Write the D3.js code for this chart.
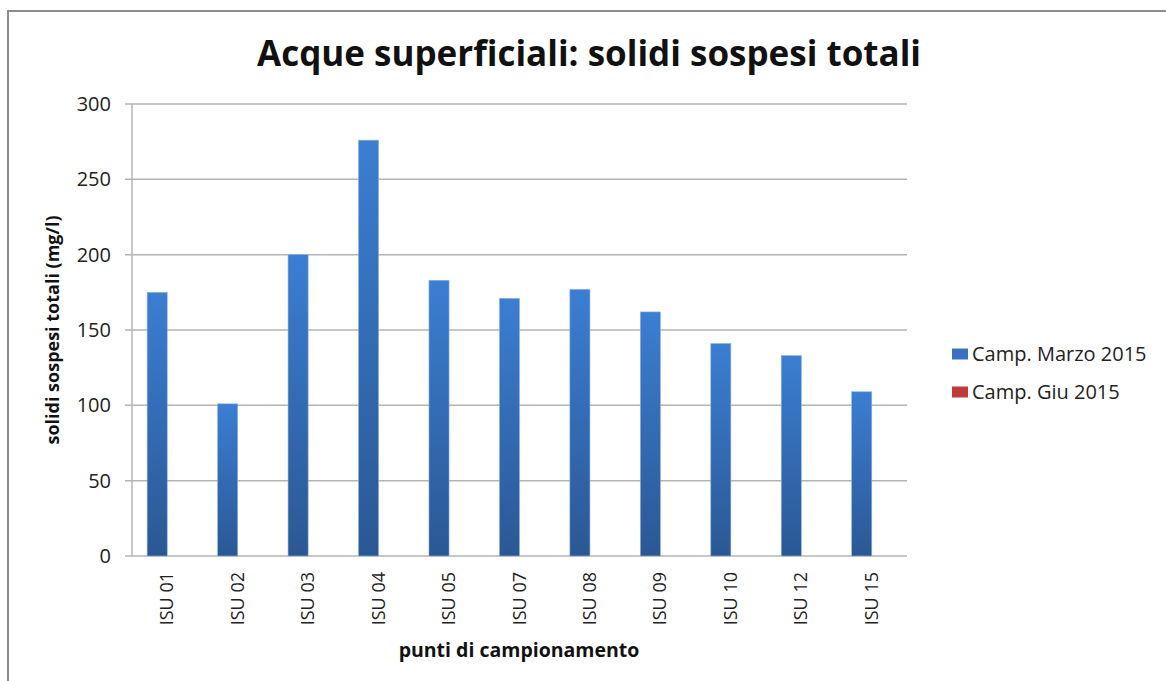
<!DOCTYPE html>
<html>
<head>
<meta charset="utf-8">
<script src="https://cdn.jsdelivr.net/npm/d3@7"></script>
<style>
  body { margin: 0; background: #fff; }
  svg { display: block; font-family: "Open Sans", Lato, sans-serif; }
</style>
</head>
<body>
<svg id="chart" width="1166" height="681"></svg>
<script>
const categories = ["ISU 01", "ISU 02", "ISU 03", "ISU 04", "ISU 05", "ISU 07", "ISU 08", "ISU 09", "ISU 10", "ISU 12", "ISU 15"];
const marzo2015 = [175, 101, 200, 276, 183, 171, 177, 162, 141, 133, 109];
const giu2015 = [null, null, null, null, null, null, null, null, null, null, null];
const seriesNames = ["Camp. Marzo 2015", "Camp. Giu 2015"];
const yTicks = [0, 50, 100, 150, 200, 250, 300];

const margin = { left: 132, right: 907, top: 104, bottom: 556 };
const svg = d3.select("#chart");

// outer frame
svg.append("rect")
    .attr("x", 8).attr("y", 11)
    .attr("width", 1200).attr("height", 720)
    .attr("fill", "none")
    .attr("stroke", "#8c8c8c")
    .attr("stroke-width", 2);

const defs = svg.append("defs");
const grad = defs.append("linearGradient")
    .attr("id", "blueGrad")
    .attr("x1", 0).attr("y1", 0).attr("x2", 0).attr("y2", 1);
grad.append("stop").attr("offset", "0%").attr("stop-color", "#3b7ed2");
grad.append("stop").attr("offset", "100%").attr("stop-color", "#2b5894");

const x = d3.scaleBand()
    .domain(categories)
    .range([margin.left, margin.right])
    .paddingInner(0.43)
    .paddingOuter(0.215);

const xSeries = d3.scaleBand()
    .domain(seriesNames)
    .range([0, x.bandwidth()]);

const y = d3.scaleLinear()
    .domain([0, 300])
    .range([margin.bottom, margin.top]);

// gridlines
svg.append("g")
    .selectAll("line")
    .data(yTicks)
    .enter()
    .append("line")
    .attr("x1", margin.left - 7)
    .attr("x2", margin.right)
    .attr("y1", d => y(d))
    .attr("y2", d => y(d))
    .attr("stroke", "#b4b4b4")
    .attr("stroke-width", 1.5);

// y axis line
svg.append("line")
    .attr("x1", margin.left).attr("x2", margin.left)
    .attr("y1", margin.top).attr("y2", margin.bottom)
    .attr("stroke", "#b4b4b4")
    .attr("stroke-width", 1.5);

// y tick labels
svg.append("g")
    .selectAll("text")
    .data(yTicks)
    .enter()
    .append("text")
    .attr("x", 111)
    .attr("y", d => y(d))
    .attr("dy", "0.35em")
    .attr("text-anchor", "end")
    .attr("font-size", "20px")
    .attr("fill", "#222")
    .text(d => d);

// bars
const barData = [];
categories.forEach((c, i) => {
    barData.push({ cat: c, series: seriesNames[0], value: marzo2015[i] });
    barData.push({ cat: c, series: seriesNames[1], value: giu2015[i] });
});

svg.append("g")
    .selectAll("rect")
    .data(barData.filter(d => d.value != null))
    .enter()
    .append("rect")
    .attr("x", d => x(d.cat) + xSeries(d.series))
    .attr("y", d => y(d.value))
    .attr("width", xSeries.bandwidth())
    .attr("height", d => y(0) - y(d.value))
    .attr("fill", d => d.series === seriesNames[0] ? "url(#blueGrad)" : "#c0393b")
    .attr("stroke", "#8fb2e0")
    .attr("stroke-width", 0.6);

// x tick labels (rotated)
svg.append("g")
    .selectAll("text")
    .data(categories)
    .enter()
    .append("text")
    .attr("transform", d => `translate(${ x(d) + x.bandwidth() / 2 + 6 }, 572) rotate(-90)`)
    .attr("text-anchor", "end")
    .attr("font-size", "18px")
    .attr("fill", "#222")
    .text(d => d);

// title
svg.append("text")
    .attr("x", 589)
    .attr("y", 66)
    .attr("text-anchor", "middle")
    .attr("font-size", "35px")
    .attr("font-weight", "bold")
    .attr("fill", "#111")
    .text("Acque superficiali: solidi sospesi totali");

// axis titles
svg.append("text")
    .attr("transform", "translate(59, 330) rotate(-90)")
    .attr("text-anchor", "middle")
    .attr("font-size", "18px")
    .attr("font-weight", "bold")
    .attr("fill", "#111")
    .text("solidi sospesi totali (mg/l)");

svg.append("text")
    .attr("x", 519)
    .attr("y", 657)
    .attr("text-anchor", "middle")
    .attr("font-size", "19.5px")
    .attr("font-weight", "bold")
    .attr("fill", "#111")
    .text("punti di campionamento");

// legend
const legendColors = ["#3a72c2", "#c0393b"];
const legend = svg.append("g")
    .selectAll("g")
    .data(seriesNames)
    .enter()
    .append("g")
    .attr("transform", (d, i) => `translate(952, ${ 354 + i * 38 })`);

legend.append("rect")
    .attr("x", 0).attr("y", -5.5)
    .attr("width", 16).attr("height", 11)
    .attr("fill", (d, i) => legendColors[i]);

legend.append("text")
    .attr("x", 20)
    .attr("dy", "0.35em")
    .attr("font-size", "20px")
    .attr("fill", "#222")
    .text(d => d);
</script>
</body>
</html>
